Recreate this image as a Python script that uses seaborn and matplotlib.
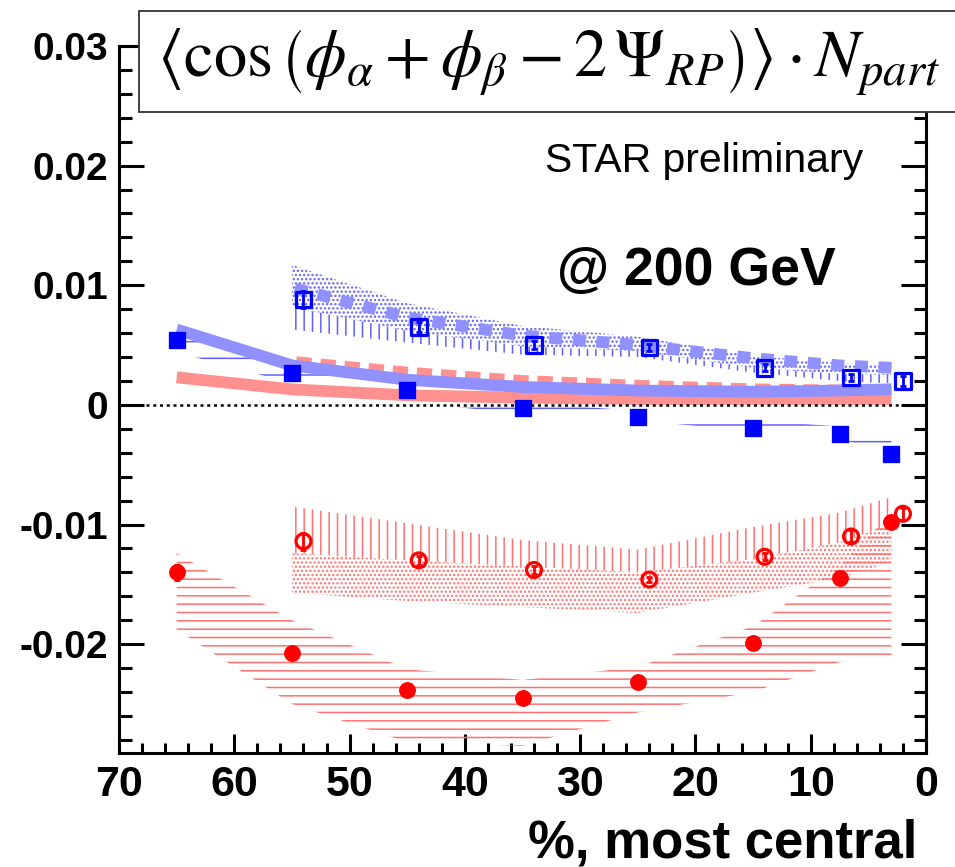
import numpy as np
import pandas as pd
import matplotlib
matplotlib.use("Agg")
import matplotlib.pyplot as plt
from matplotlib.patches import Rectangle
from matplotlib.ticker import MultipleLocator, FuncFormatter
import seaborn as sns

# -----------------------------
# Data
# -----------------------------
cent_full = [65, 55, 45, 35, 25, 15, 7.5, 3]      # filled points / bands
cent_open = [54, 44, 34, 24, 14, 6.5, 2]          # open points
cent_band_open = [55, 45, 35, 25, 15, 7.5, 3]     # open bands / dashed lines

# same-sign, filled blue squares
ss_full = [0.0054, 0.0027, 0.00125, -0.0003, -0.0010, -0.0019, -0.0024, -0.0041]
ss_full_err = [0.0006, 0.0002, 0.0002, 0.0002, 0.0002, 0.0002, 0.0003, 0.0005]
# same-sign, open blue squares
ss_open = [0.0088, 0.0065, 0.0050, 0.0048, 0.0031, 0.0023, 0.0020]
ss_open_err = [0.0007, 0.0004, 0.0003, 0.0003, 0.0003, 0.0003, 0.0004]
# opposite-sign, filled red circles
os_full = [-0.0140, -0.0207, -0.0238, -0.0245, -0.0232, -0.0199, -0.0145, -0.0098]
os_full_err = [0.0006, 0.0003, 0.0002, 0.0002, 0.0002, 0.0002, 0.0003, 0.0005]
# opposite-sign, open red circles
os_open = [-0.0114, -0.0130, -0.0138, -0.0146, -0.0127, -0.0110, -0.0091]
os_open_err = [0.0007, 0.0004, 0.0003, 0.0002, 0.0003, 0.0005, 0.0005]

# thick model curves
blue_solid = [0.0063, 0.0033, 0.0021, 0.0015, 0.0012, 0.0011, 0.0012, 0.0013]
blue_dash = [0.0098, 0.0073, 0.0058, 0.0050, 0.0039, 0.0033, 0.0031]
red_solid = [0.0023, 0.0013, 0.0008, 0.0006, 0.0005, 0.0005, 0.0005, 0.0005]
red_dash = [0.0036, 0.0027, 0.0020, 0.0016, 0.0013, 0.0012, 0.0011]

# systematic bands
bf_hi = [0.0066, 0.0036, 0.0018, 0.0002, -0.0005, -0.0013, -0.0018, -0.0025]
bf_lo = [0.0044, 0.0018, 0.0003, -0.0008, -0.0013, -0.0022, -0.0030, -0.0036]
bo_hi = [0.0117, 0.0085, 0.0066, 0.0057, 0.0041, 0.0035, 0.0033]
bo_mid = [0.0082, 0.0062, 0.0049, 0.0045, 0.0031, 0.0026, 0.0025]
bo_lo = [0.0063, 0.0052, 0.0042, 0.0040, 0.0027, 0.0020, 0.0018]
rf_hi = [-0.0124, -0.0180, -0.0221, -0.0230, -0.0219, -0.0185, -0.0135, -0.0090]
rf_lo = [-0.0188, -0.0250, -0.0282, -0.0285, -0.0257, -0.0240, -0.0215, -0.0209]
ro_hi = [-0.0085, -0.0099, -0.0113, -0.0121, -0.0102, -0.0090, -0.0077]
ro_mid = [-0.0124, -0.0130, -0.0135, -0.0140, -0.0129, -0.0115, -0.0100]
ro_lo = [-0.0157, -0.0164, -0.0169, -0.0174, -0.0157, -0.0145, -0.0131]

# -----------------------------
# Style
# -----------------------------
sns.set_theme(style="ticks")
plt.rcParams["font.family"] = ["Liberation Sans", "DejaVu Sans"]
plt.rcParams["axes.unicode_minus"] = False
plt.rcParams["hatch.linewidth"] = 1.1
plt.rcParams["mathtext.fontset"] = "stix"
plt.rcParams["text.color"] = "black"
plt.rcParams["xtick.color"] = "black"
plt.rcParams["ytick.color"] = "black"
plt.rcParams["xtick.labelcolor"] = "black"
plt.rcParams["ytick.labelcolor"] = "black"

BLUE = "#0000ff"
RED = "#ff0000"
LBLUE = "#9090ff"
LRED = "#ff9090"
HBLUE = "#6060ff"
HRED = "#ff7070"

fig = plt.figure(figsize=(9.55, 8.67), dpi=100)
ax = fig.add_axes([119 / 955, 1 - 753 / 867, (926 - 119) / 955, (753 - 46) / 867])


def band(x, lo, hi, color, hatch):
    ax.fill_between(x, lo, hi, facecolor="none", edgecolor=color,
                    hatch=hatch, linewidth=0, zorder=1)


# bands
band(cent_full, bf_lo, bf_hi, HBLUE, "-")
band(cent_band_open, bo_mid, bo_hi, HBLUE, "....")
band(cent_band_open, bo_lo, bo_mid, HBLUE, "||")
band(cent_full, rf_lo, rf_hi, HRED, "--")
band(cent_band_open, ro_mid, ro_hi, HRED, "||")
band(cent_band_open, ro_lo, ro_mid, HRED, "....")

# thick curves
lw = 8.5
sns.lineplot(x=cent_full, y=red_solid, ax=ax, color=LRED, lw=lw,
             solid_capstyle="butt", zorder=2)
sns.lineplot(x=cent_band_open, y=red_dash, ax=ax, color=LRED, lw=lw,
             linestyle=(0, (1.3, 0.75)), dash_capstyle="butt", zorder=2)
sns.lineplot(x=cent_full, y=blue_solid, ax=ax, color=LBLUE, lw=lw,
             solid_capstyle="butt", zorder=2)
sns.lineplot(x=cent_band_open, y=blue_dash, ax=ax, color=LBLUE, lw=lw,
             linestyle=(0, (1.1, 0.9)), dash_capstyle="butt", zorder=2)

# zero line
ax.axhline(0, color="black", lw=1.8, linestyle=(0, (1.2, 1.5)), zorder=2)

# points with error bars
for x, y, e, c in [(cent_full, ss_full, ss_full_err, BLUE),
                   (cent_open, ss_open, ss_open_err, BLUE),
                   (cent_full, os_full, os_full_err, RED),
                   (cent_open, os_open, os_open_err, RED)]:
    ax.errorbar(x, y, yerr=e, fmt="none", ecolor=c, elinewidth=2,
                capsize=2.5, capthick=2, zorder=3)

sns.scatterplot(x=cent_full, y=ss_full, ax=ax, marker="s", s=140,
                color=BLUE, edgecolor=BLUE, zorder=4)
sns.scatterplot(x=cent_open, y=ss_open, ax=ax, marker="s", s=125,
                color=BLUE, facecolor="none", edgecolor=BLUE,
                linewidth=2.3, zorder=4)
sns.scatterplot(x=cent_full, y=os_full, ax=ax, marker="o", s=125,
                color=RED, edgecolor=RED, zorder=4)
sns.scatterplot(x=cent_open, y=os_open, ax=ax, marker="o", s=115,
                color=RED, facecolor="none", edgecolor=RED,
                linewidth=2.3, zorder=4)

# axes
ax.set_xlim(70, 0)
ax.set_ylim(-0.0291, 0.03)
ax.xaxis.set_major_locator(MultipleLocator(10))
ax.xaxis.set_minor_locator(MultipleLocator(2))
ax.yaxis.set_major_locator(MultipleLocator(0.01))
ax.yaxis.set_minor_locator(MultipleLocator(0.002))
ax.yaxis.set_major_formatter(FuncFormatter(lambda v, p: "0" if abs(v) < 1e-9 else f"{v:.2f}"))
ax.xaxis.set_major_formatter(FuncFormatter(lambda v, p: f"{v:.0f}"))

for s in ax.spines.values():
    s.set_linewidth(2.2)
    s.set_color("black")
ax.tick_params(which="both", direction="in", left=True, right=True,
               top=False, bottom=True, color="black", labelcolor="black",
               width=2.2)
ax.tick_params(which="major", axis="y", length=18)
ax.tick_params(which="minor", axis="y", length=9)
ax.tick_params(which="major", axis="x", length=14)
ax.tick_params(which="minor", axis="x", length=7)
ax.tick_params(axis="y", labelsize=28, pad=8)
ax.tick_params(axis="x", labelsize=31, pad=9)
for lab in ax.get_xticklabels() + ax.get_yticklabels():
    lab.set_fontweight("bold")
ax.set_xlabel("")
ax.set_ylabel("")
ax.grid(False)
ax.set_facecolor("white")

# texts
fig.text(545 / 955, 1 - 172 / 867, "STAR preliminary", fontsize=29.5,
         color="black", ha="left", va="baseline")
fig.text(557 / 955, 1 - 285 / 867, "@ 200 GeV", fontsize=38.5,
         fontweight="bold", color="black", ha="left", va="baseline")
fig.text(917 / 955, 1 - 857 / 867, "%, most central", fontsize=38,
         fontweight="bold", color="black", ha="right", va="baseline")

# title box
fig.add_artist(Rectangle((139 / 955, 1 - 112 / 867), 1.0, (112 - 11) / 867,
                         transform=fig.transFigure, facecolor="white",
                         edgecolor="#333333", lw=1.3, zorder=5))
fig.text(157 / 955, 1 - 62 / 867,
         r"$\left\langle\cos\left(\phi_{\alpha}+\phi_{\beta}-2\,\Psi_{RP}\right)\right\rangle\cdot N_{part}$",
         fontsize=48, color="black", ha="left", va="center", zorder=6)

fig.savefig("out.png", dpi=100)
